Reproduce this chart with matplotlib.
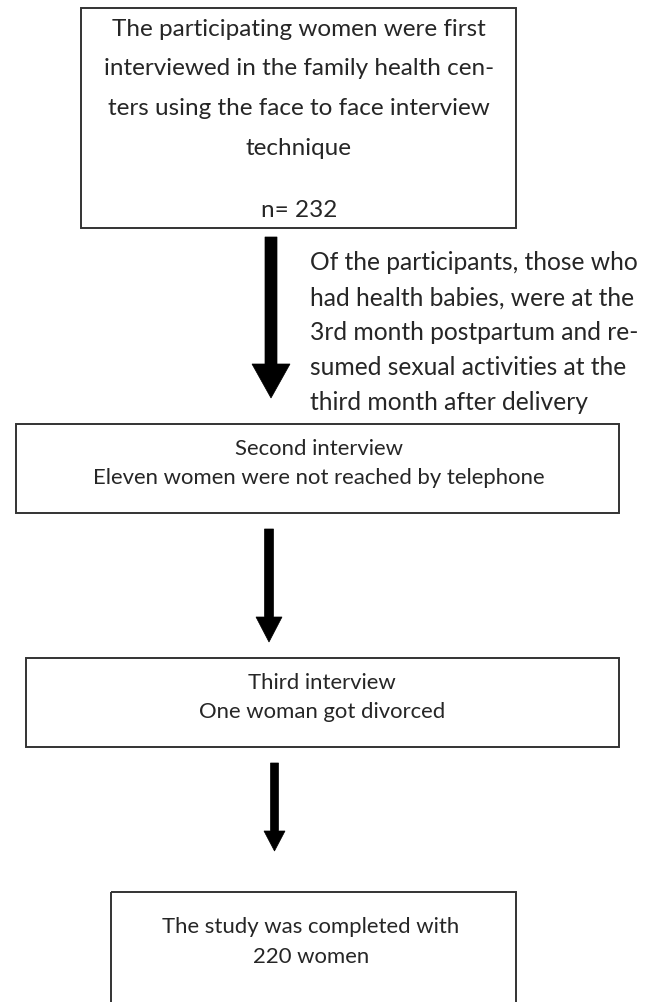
import matplotlib
matplotlib.use("Agg")
import matplotlib.pyplot as plt
from matplotlib.patches import Rectangle, Polygon

# ---- content ----
box1_lines = ["The participating women were first",
              "interviewed in the family health cen-",
              "ters using the face to face interview",
              "technique"]
box1_n = "n= 232"
side_lines = ["Of the participants, those who",
              "had health babies, were at the",
              "3rd month postpartum and re-",
              "sumed sexual activities at the",
              "third month after delivery"]
box2_lines = ["Second interview", "Eleven women were not reached by telephone"]
box3_lines = ["Third interview", "One woman got divorced"]
box4_lines = ["The study was completed with", "220 women"]

# ---- layout (pixels) ----
W, H = 656, 1002
FONT = "Lato"
TXT = "#262626"
EDGE = "#333333"

fig = plt.figure(figsize=(W / 100, H / 100), dpi=100)
ax = fig.add_axes([0, 0, 1, 1])
ax.set_xlim(0, W)
ax.set_ylim(H, 0)
ax.axis("off")

renderer = fig.canvas.get_renderer()


def fit_size(s, target_px):
    t = ax.text(0, 0, s, fontsize=10, family=FONT)
    w = t.get_window_extent(renderer).width
    t.remove()
    return 10 * target_px / w


fs_box1 = fit_size(box1_lines[0], 374)
fs_side = fit_size(side_lines[0], 329)
fs_mid = fit_size(box2_lines[1], 453)


def box(x0, x1, y0, y1):
    ax.add_patch(Rectangle((x0, y0), x1 - x0, y1 - y0, fill=False,
                           edgecolor=EDGE, linewidth=1.4))


def arrow(xc, shaft_w, head_w, y0, yh, ytip):
    hw, sw = head_w / 2, shaft_w / 2
    pts = [(xc - sw, y0), (xc + sw, y0), (xc + sw, yh), (xc + hw, yh),
           (xc, ytip), (xc - hw, yh), (xc - sw, yh)]
    ax.add_patch(Polygon(pts, closed=True, facecolor="black",
                         edgecolor="black", linewidth=0.5))


def lines(strs, xc, y_first, step, fs, ha="center"):
    for i, s in enumerate(strs):
        ax.text(xc, y_first + i * step, s, ha=ha, va="center",
                fontsize=fs, family=FONT, color=TXT)


# Box 1
box(81, 516, 8, 228)
lines(box1_lines, 299, 29, 39.8, fs_box1)
lines([box1_n], 299, 210, 0, fs_box1)

# Arrow 1 + side text
arrow(271, 12, 38, 237, 364, 398)
lines(side_lines, 310, 263, 34.8, fs_side, ha="left")

# Box 2
box(15.5, 619, 424, 513)
lines(box2_lines, 319, 449, 29, fs_mid)

# Arrow 2
arrow(269, 9, 26, 529, 617, 642)

# Box 3
box(26, 619, 658, 747)
lines(box3_lines, 322, 683, 29, fs_mid)

# Arrow 3
arrow(274.5, 8, 21, 763, 831, 851)

# Box 4
box(111, 516, 892, 1040)
lines(box4_lines, 311, 927, 30, fs_mid)

fig.savefig("out.png", dpi=100)
